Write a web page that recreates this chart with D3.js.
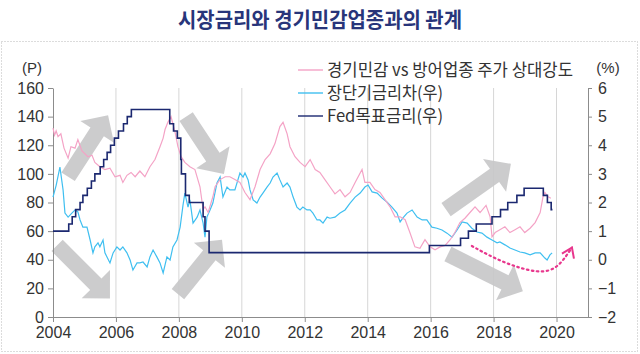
<!DOCTYPE html>
<html>
<head>
<meta charset="utf-8">
<script src="https://cdn.jsdelivr.net/npm/d3@7"></script>
<style>
  body { margin: 0; background: #fff; }
  svg { display: block; }
</style>
</head>
<body>
<div id="chart"><svg></svg></div>
<script>
// 경기민감 vs 방어업종 주가 상대강도 (left axis, P)
const relStrength = [
  [2004.00,132],[2004.05,127],[2004.10,130],[2004.16,126],[2004.25,128],[2004.35,118],[2004.48,111],
  [2004.57,119],[2004.70,118],[2004.79,124],[2004.92,116],[2005.11,112],[2005.24,113],[2005.33,108],
  [2005.49,105],[2005.65,103],[2005.81,104],[2005.97,98],[2006.13,99],[2006.22,94],[2006.35,99],
  [2006.48,101],[2006.61,98],[2006.76,102],[2006.92,98],[2007.08,105],[2007.24,110],[2007.40,119],
  [2007.50,125],[2007.56,131],[2007.65,136],[2007.75,140],[2007.88,129],[2007.97,119],[2008.07,112],
  [2008.19,108],[2008.35,105],[2008.51,103],[2008.67,91],[2008.77,75],[2008.83,77],[2008.93,73],
  [2009.08,84],[2009.15,91],[2009.31,96],[2009.47,98],[2009.62,98],[2009.78,96],[2009.94,94],
  [2010.10,87],[2010.26,82],[2010.42,91],[2010.58,103],[2010.74,110],[2010.90,114],[2011.05,121],
  [2011.21,133],[2011.31,136],[2011.44,128],[2011.53,119],[2011.69,112],[2011.85,108],[2012.01,105],
  [2012.17,110],[2012.33,103],[2012.48,101],[2012.64,96],[2012.80,91],[2012.96,86],[2013.12,89],
  [2013.28,84],[2013.44,87],[2013.60,94],[2013.82,103],[2013.91,94],[2014.07,94],[2014.23,89],
  [2014.39,87],[2014.55,82],[2014.71,77],[2014.87,70],[2015.03,70],[2015.19,68],[2015.34,59],
  [2015.50,49],[2015.66,48],[2015.82,54],[2015.98,49],[2016.14,47],[2016.30,49],[2016.46,50],
  [2016.62,54],[2016.77,59],[2016.93,66],[2017.09,69],[2017.25,73],[2017.41,77],[2017.57,73],
  [2017.76,78],[2017.89,70],[2017.95,56],[2018.05,59],[2018.20,61],[2018.36,63],[2018.52,59],
  [2018.68,61],[2018.84,63],[2018.99,59],[2019.16,62],[2019.32,66],[2019.48,73],[2019.57,84],
  [2019.63,87],[2019.73,84],[2019.82,83]
];

// 장단기금리차 (right axis, %)
const termSpread = [
  [2004.00,2.19],[2004.10,2.60],[2004.22,3.24],[2004.32,2.44],[2004.38,1.63],[2004.48,1.49],[2004.60,1.63],
  [2004.70,1.74],[2004.79,1.67],[2004.86,1.39],[2004.95,1.14],[2005.08,1.14],[2005.18,0.69],[2005.27,0.24],
  [2005.33,0.45],[2005.43,0.59],[2005.49,0.45],[2005.59,0.69],[2005.65,0.24],[2005.81,-0.11],[2005.91,0.24],
  [2006.03,0.45],[2006.13,0.34],[2006.22,0.45],[2006.35,0.24],[2006.45,-0.01],[2006.54,-0.36],[2006.67,-0.11],
  [2006.76,-0.11],[2006.86,-0.08],[2006.99,-0.25],[2007.08,0.10],[2007.18,0.34],[2007.30,0.10],[2007.40,-0.11],
  [2007.50,-0.46],[2007.62,0.10],[2007.72,-0.01],[2007.81,0.45],[2007.94,0.69],[2008.04,1.14],[2008.13,1.90],
  [2008.19,2.33],[2008.29,1.84],[2008.35,2.09],[2008.45,1.28],[2008.58,1.49],[2008.67,1.74],[2008.77,1.28],
  [2008.83,0.79],[2008.89,1.49],[2008.99,1.74],[2009.08,1.98],[2009.21,2.68],[2009.31,2.89],[2009.40,2.19],
  [2009.53,2.54],[2009.62,2.44],[2009.78,2.44],[2009.94,3.03],[2010.04,2.89],[2010.10,3.03],[2010.20,2.79],
  [2010.26,2.44],[2010.36,2.09],[2010.48,1.98],[2010.58,2.19],[2010.67,2.33],[2010.80,2.54],[2010.90,2.68],
  [2010.99,2.89],[2011.12,3.03],[2011.21,2.79],[2011.31,2.54],[2011.44,2.68],[2011.53,2.54],[2011.63,2.19],
  [2011.75,1.84],[2011.85,1.74],[2011.94,1.84],[2012.07,1.74],[2012.17,1.74],[2012.26,1.63],[2012.39,1.39],
  [2012.48,1.39],[2012.58,1.28],[2012.71,1.49],[2012.80,1.45],[2012.96,1.49],[2013.12,1.63],[2013.28,1.74],
  [2013.44,1.98],[2013.60,2.19],[2013.76,2.33],[2013.91,2.54],[2014.01,2.61],[2014.14,2.37],[2014.30,2.33],
  [2014.45,2.16],[2014.61,2.02],[2014.77,1.84],[2014.93,1.63],[2015.03,1.32],[2015.12,1.46],[2015.25,1.63],
  [2015.41,1.74],[2015.57,1.49],[2015.73,1.39],[2015.88,1.39],[2016.04,1.14],[2016.20,1.10],[2016.36,1.04],
  [2016.52,0.93],[2016.68,0.79],[2016.84,1.04],[2017.00,1.32],[2017.16,1.28],[2017.31,1.10],[2017.47,0.97],
  [2017.63,0.93],[2017.79,0.79],[2017.95,0.69],[2018.11,0.59],[2018.20,0.62],[2018.36,0.52],[2018.52,0.41],
  [2018.68,0.34],[2018.84,0.27],[2018.99,0.24],[2019.16,0.17],[2019.32,0.24],[2019.48,0.24],[2019.63,0.06],
  [2019.70,-0.01],[2019.79,0.17],[2019.86,0.24]
];

// Fed목표금리 (right axis, %), changes in effect from each date
const fedDates = [2004.00,2004.50,2004.61,2004.72,2004.86,2004.95,2005.09,2005.22,2005.33,2005.50,2005.61,
  2005.72,2005.83,2005.95,2006.08,2006.24,2006.36,2006.49,2007.71,2007.83,2007.95,2008.06,2008.08,2008.21,
  2008.33,2008.77,2008.83,2008.96,2015.96,2016.95,2017.20,2017.45,2017.95,2018.22,2018.45,2018.74,2018.97,
  2019.58,2019.71,2019.83,2019.87];
const fedRates = [1.00,1.25,1.50,1.75,2.00,2.25,2.50,2.75,3.00,3.25,3.50,
  3.75,4.00,4.25,4.50,4.75,5.00,5.25,4.75,4.50,4.25,3.50,3.00,2.25,
  2.00,1.50,1.00,0.25,0.50,0.75,1.00,1.25,1.50,1.75,2.00,2.25,2.50,
  2.25,2.00,1.75,1.75];

const leftTicks = [0, 20, 40, 60, 80, 100, 120, 140, 160];
const rightTicks = [-2, -1, 0, 1, 2, 3, 4, 5, 6];
const yearTicks = [2004, 2006, 2008, 2010, 2012, 2014, 2016, 2018, 2020];

// grey block arrows: [tail, tip] as [year, left-axis value]
const blockArrows = [
  [[2004.48, 98], [2005.75, 141]],
  [[2004.13, 50], [2005.81, 13]],
  [[2008.23, 140], [2009.43, 100]],
  [[2007.97, 16], [2009.37, 54]],
  [[2016.49, 75], [2018.55, 107]],
  [[2016.55, 44], [2018.93, 18]]
];
// pink dotted outlook path (year, left-axis value)
const outlook = [[2017.31, 49.6], [2018.30, 37.7], [2019.47, 30.0], [2020.02, 34.2], [2020.33, 43.3], [2020.49, 48.5]];

const legendItems = [
  { label: "경기민감 vs 방어업종 주가 상대강도", color: "#f4a3c6", w: 246 },
  { label: "장단기금리차(우)", color: "#3fbff0", w: 116 },
  { label: "Fed목표금리(우)", color: "#1b2870", w: 116 }
];

let svg = d3.select("#chart svg")
  .attr("width", 640)
  .attr("height", 354);

let x = d3.scaleLinear().domain([2004, 2021]).range([53, 588]);
let yL = d3.scaleLinear().domain([0, 160]).range([317, 88]);
let yR = d3.scaleLinear().domain([-2, 6]).range([317, 88]);

// title + dotted frame
svg.append("text")
  .attr("x", 320).attr("y", 27)
  .attr("text-anchor", "middle")
  .attr("textLength", 284).attr("lengthAdjust", "spacingAndGlyphs")
  .style("font-family", "'Noto Sans CJK KR'")
  .style("font-size", "21px").style("font-weight", "bold")
  .attr("fill", "#28357a")
  .text("시장금리와 경기민감업종과의 관계");

svg.append("rect")
  .attr("x", 1.5).attr("y", 41.5).attr("width", 636).attr("height", 310)
  .attr("fill", "none").attr("stroke", "#b8b8b8").attr("stroke-dasharray", "1,2");

// vertical gridlines
svg.append("g").selectAll("line")
  .data(yearTicks.slice(1))
  .join("line")
    .attr("x1", d => x(d)).attr("x2", d => x(d))
    .attr("y1", yL(160)).attr("y2", yL(0))
    .attr("stroke", "#d6d6d6").attr("stroke-width", 1);

// block arrows
const arrowPath = ([t, h]) => {
  let x0 = x(t[0]), y0 = yL(t[1]), x1 = x(h[0]), y1 = yL(h[1]);
  let dx = x1 - x0, dy = y1 - y0, len = Math.hypot(dx, dy);
  let ux = dx / len, uy = dy / len, px = -uy, py = ux;
  let sw = 8, hw = 20, hl = 20;
  let bx = x1 - ux * hl, by = y1 - uy * hl;
  let pts = [
    [x0 + px * sw, y0 + py * sw],
    [bx + px * sw, by + py * sw],
    [bx + px * hw, by + py * hw],
    [x1, y1],
    [bx - px * hw, by - py * hw],
    [bx - px * sw, by - py * sw],
    [x0 - px * sw, y0 - py * sw]
  ];
  return "M" + pts.map(p => p.join(",")).join("L") + "Z";
};

svg.append("g").selectAll("path")
  .data(blockArrows)
  .join("path")
    .attr("d", arrowPath)
    .attr("fill", "#c6c6c8")
    .attr("opacity", 0.9);

// axes
const styleAxis = g => {
  g.select(".domain").attr("stroke", "#8c8c8c");
  g.selectAll(".tick line").attr("stroke", "#8c8c8c");
  g.selectAll("text")
    .style("font-family", "'Liberation Sans', Arial, sans-serif")
    .style("font-size", "16px")
    .attr("fill", "#333");
};

svg.append("g")
  .attr("transform", "translate(53,0)")
  .call(d3.axisLeft(yL).tickValues(leftTicks).tickSize(5).tickSizeOuter(0).tickPadding(4))
  .call(styleAxis);

svg.append("g")
  .attr("transform", "translate(588,0)")
  .call(d3.axisRight(yR).tickValues(rightTicks).tickSize(4).tickSizeOuter(0).tickPadding(6))
  .call(styleAxis);

svg.append("g")
  .attr("transform", "translate(0,317)")
  .call(d3.axisBottom(x).tickValues(yearTicks).tickFormat(d3.format("d")).tickSize(5).tickSizeOuter(0).tickPadding(5))
  .call(styleAxis);

// unit labels
svg.append("text").attr("x", 32).attr("y", 73).attr("text-anchor", "middle")
  .style("font-family", "'Liberation Sans', Arial, sans-serif").style("font-size", "15px")
  .attr("fill", "#333").text("(P)");
svg.append("text").attr("x", 608).attr("y", 73).attr("text-anchor", "middle")
  .style("font-family", "'Liberation Sans', Arial, sans-serif").style("font-size", "15px")
  .attr("fill", "#333").text("(%)");

// series
let lineL = d3.line().x(d => x(d[0])).y(d => yL(d[1]));
let lineR = d3.line().x(d => x(d[0])).y(d => yR(d[1]));
let lineFed = d3.line().x(d => x(d[0])).y(d => yR(d[1])).curve(d3.curveStepAfter);

svg.append("path").datum(termSpread)
  .attr("d", lineR).attr("fill", "none")
  .attr("stroke", "#3fbff0").attr("stroke-width", 1.2);

svg.append("path").datum(relStrength)
  .attr("d", lineL).attr("fill", "none")
  .attr("stroke", "#f4a3c6").attr("stroke-width", 1.2);

svg.append("path").datum(fedDates.map((d, i) => [d, fedRates[i]]))
  .attr("d", lineFed).attr("fill", "none")
  .attr("stroke", "#1b2870").attr("stroke-width", 1.6);

// dotted outlook arrow
svg.append("path").datum(outlook)
  .attr("d", d3.line().x(d => x(d[0])).y(d => yL(d[1])).curve(d3.curveBasis))
  .attr("fill", "none").attr("stroke", "#e8378d").attr("stroke-width", 2.2)
  .attr("stroke-dasharray", "1.5,3.5").attr("stroke-linecap", "round");

let tip = outlook[outlook.length - 1];
let tx = x(tip[0]), ty = yL(tip[1]);
svg.append("path")
  .attr("d", `M${tx - 10},${ty + 6}L${tx},${ty}L${tx + 2},${ty + 11}`)
  .attr("fill", "none").attr("stroke", "#e8378d").attr("stroke-width", 2)
  .attr("stroke-linejoin", "miter");

// legend
let legend = svg.append("g").selectAll("g")
  .data(legendItems)
  .join("g")
    .attr("transform", (d, i) => `translate(298,${70 + i * 23})`);

legend.append("line")
  .attr("x1", 0).attr("x2", 25)
  .attr("stroke", d => d.color).attr("stroke-width", 1.4);

legend.append("text")
  .attr("x", 29).attr("y", 6)
  .attr("textLength", d => d.w).attr("lengthAdjust", "spacingAndGlyphs")
  .style("font-family", "'Noto Sans CJK KR'")
  .style("font-size", "17px")
  .attr("fill", "#333")
  .text(d => d.label);
</script>
</body>
</html>
